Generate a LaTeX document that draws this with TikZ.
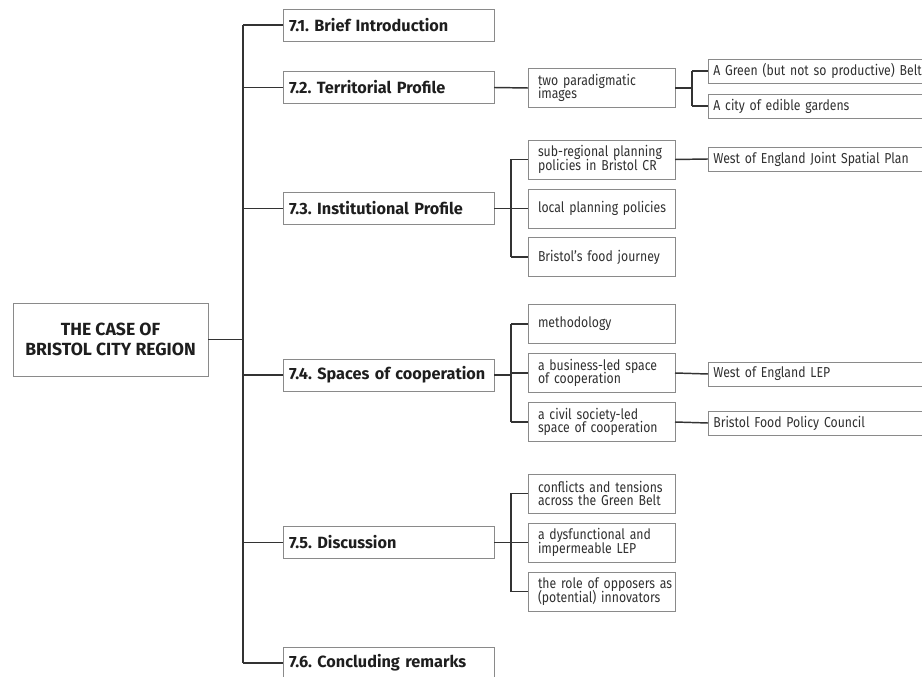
\documentclass[tikz,border=0pt]{standalone}
\usepackage{fontspec}
\setmainfont{Fira Sans}
\newfontfamily\regfont[FakeStretch=0.85]{Fira Sans}
\definecolor{boxgray}{HTML}{8A8A8A}
\definecolor{linedark}{HTML}{333333}
\definecolor{txt}{HTML}{1E1E1E}
\definecolor{txtreg}{HTML}{303030}
\frenchspacing
\begin{document}
\begin{tikzpicture}[x=0.75pt,y=-0.75pt,
  box/.style={draw=boxgray, line width=0.7pt, inner ysep=0pt, outer sep=0pt, text=txt},
  rootbox/.style={box, minimum width=146.25pt, minimum height=54.75pt, align=center,
    font=\bfseries\fontsize{13.2pt}{15.3pt}\selectfont},
  lonebox/.style={box, inner xsep=0pt, text width=158.25pt, minimum height=24pt, align=left,
    execute at begin node={\leftskip4.5pt\relax},
    font=\bfseries\fontsize{12.2pt}{14pt}\selectfont},
  ltwobox/.style={box, inner xsep=0pt, text width=110.25pt,
    minimum height=29.25pt, align=left, text=txtreg,
    execute at begin node={\leftskip7.5pt\relax\hyphenpenalty10000\relax\lineskiplimit-20pt\relax},
    font=\regfont\fontsize{10.8pt}{10.2pt}\selectfont},
  lthreebox/.style={box, inner xsep=0pt, text width=174pt, minimum height=18pt, align=left,
    execute at begin node={\leftskip4pt\relax},
    text=txtreg, font=\regfont\fontsize{10.8pt}{10.2pt}\selectfont},
  conn/.style={draw=linedark, line width=1.1pt}
]
\useasboundingbox (0,0) rectangle (922,677);
\clip (0,0) rectangle (922,677);

% root
\node[rootbox] (root) at (110.5,339.5) {THE CASE OF\\BRISTOL CITY REGION};

% level 1
\node[lonebox] (s1) at (388.5,25) {7.1. Brief Introduction};
\node[lonebox] (s2) at (388.5,87.5) {7.2. Territorial Profile};
\node[lonebox] (s3) at (388.5,208.5) {7.3. Institutional Profile};
\node[lonebox] (s4) at (388.5,375) {7.4. Spaces of cooperation};
\node[lonebox] (s5) at (388.5,542.5) {7.5. Discussion};
\node[lonebox] (s6) at (388.5,663) {7.6. Concluding remarks};

% trunk
\coordinate (trunk) at (243,0);
\draw[conn] (root.east) -- (root.east -| trunk);
\draw[conn] (s1.west -| trunk) -- (s6.west -| trunk);
\foreach \n in {s1,s2,s3,s4,s5,s6} \draw[conn] (\n.west -| trunk) -- (\n.west);

% level 2
\node[ltwobox] (a1) at (601.5,88) {two paradigmatic\\images};
\node[ltwobox] (b1) at (601.5,159.5) {sub-regional planning\\policies in Bristol CR};
\node[ltwobox] (b2) at (601.5,208.5) {local planning policies};
\node[ltwobox] (b3) at (601.5,257) {Bristol’s food journey};
\node[ltwobox] (c1) at (601.5,324) {methodology};
\node[ltwobox] (c2) at (601.5,373) {a business-led space\\of cooperation};
\node[ltwobox] (c3) at (601.5,422) {a civil society-led\\space of cooperation};
\node[ltwobox] (d1) at (601.5,493.5) {conflicts and tensions\\across the Green Belt};
\node[ltwobox] (d2) at (601.5,542.5) {a dysfunctional and\\impermeable LEP};
\node[ltwobox] (d3) at (601.5,591.5) {the role of opposers as\\(potential) innovators};

\coordinate (br2) at (511,0);
\draw[conn] (s2.east) -- (a1.west);
\draw[conn] (s3.east) -- (s3.east -| br2);
\draw[conn] (b1.west -| br2) -- (b3.west -| br2);
\foreach \n in {b1,b2,b3} \draw[conn] (\n.west -| br2) -- (\n.west);
\draw[conn] (s4.east) -- (s4.east -| br2);
\draw[conn] (c1.west -| br2) -- (c3.west -| br2);
\foreach \n in {c1,c2,c3} \draw[conn] (\n.west -| br2) -- (\n.west);
\draw[conn] (s5.east) -- (s5.east -| br2);
\draw[conn] (d1.west -| br2) -- (d3.west -| br2);
\foreach \n in {d1,d2,d3} \draw[conn] (\n.west -| br2) -- (\n.west);

% level 3
\node[lthreebox] (e1) at (824,71) {A Green (but not so productive) Belt};
\node[lthreebox] (e2) at (824,106) {A city of edible gardens};
\node[lthreebox] (f1) at (824,159) {West of England Joint Spatial Plan};
\node[lthreebox] (g1) at (824,374) {West of England LEP};
\node[lthreebox] (g2) at (824,423) {Bristol Food Policy Council};

\coordinate (br3) at (692,0);
\draw[conn] (a1.east) -- (a1.east -| br3);
\draw[conn] (e1.west -| br3) -- (e2.west -| br3);
\foreach \n in {e1,e2} \draw[conn] (\n.west -| br3) -- (\n.west);
\draw[conn] (b1.east) -- (f1.west);
\draw[conn] (c2.east) -- (g1.west);
\draw[conn] (c3.east) -- (g2.west);
\end{tikzpicture}
\end{document}
